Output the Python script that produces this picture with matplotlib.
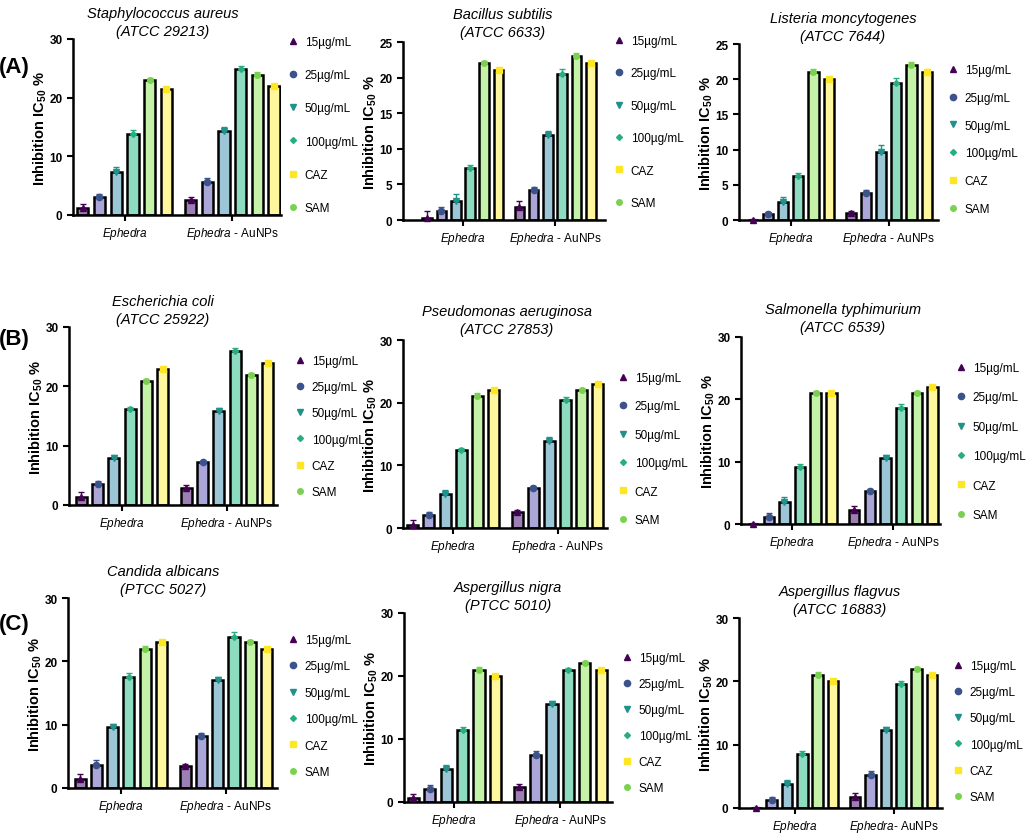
import numpy as np
import matplotlib.pyplot as plt
from matplotlib.lines import Line2D

plt.rcParams['font.family'] = 'Liberation Sans'
plt.rcParams['mathtext.fontset'] = 'custom'
plt.rcParams['mathtext.it'] = 'Liberation Sans:italic'
plt.rcParams['mathtext.bf'] = 'Liberation Sans:bold'
plt.rcParams['mathtext.rm'] = 'Liberation Sans'

#================================================================
# data: rows = [Ephedra, Ephedra - AuNPs], columns = bar order
series = ['15µg/mL', '25µg/mL', '50µg/mL', '100µg/mL', 'SAM', 'CAZ']
legend_order = [0, 1, 2, 3, 5, 4]

s_aureus = [[1.2, 3.0, 7.4, 13.8, 23.0, 21.5], [2.6, 5.7, 14.3, 24.9, 23.9, 22.0]]
s_aureus_err = [[0.6, 0.5, 0.8, 0.7, 0.4, 0.4], [0.5, 0.6, 0.7, 0.5, 0.5, 0.4]]
b_subtilis = [[0.3, 1.3, 2.7, 7.3, 22.0, 21.0], [1.8, 4.2, 12.0, 20.5, 23.0, 22.0]]
b_subtilis_err = [[1.0, 0.5, 0.9, 0.4, 0.4, 0.4], [0.8, 0.4, 0.5, 0.7, 0.4, 0.4]]
l_mono = [[0.0, 0.8, 2.5, 6.2, 21.0, 20.0], [1.0, 3.8, 9.7, 19.5, 22.0, 21.0]]
l_mono_err = [[0.2, 0.3, 0.8, 0.5, 0.5, 0.3], [0.3, 0.4, 0.9, 0.6, 0.5, 0.4]]
e_coli = [[1.3, 3.6, 7.9, 16.2, 20.9, 23.0], [2.9, 7.2, 15.9, 25.9, 21.9, 23.9]]
e_coli_err = [[0.9, 0.4, 0.5, 0.4, 0.4, 0.3], [0.5, 0.3, 0.4, 0.6, 0.4, 0.3]]
p_aerug = [[0.5, 2.0, 5.4, 12.4, 21.0, 22.0], [2.6, 6.4, 13.9, 20.5, 22.0, 23.0]]
p_aerug_err = [[0.7, 0.5, 0.7, 0.3, 0.5, 0.3], [0.3, 0.3, 0.6, 0.4, 0.4, 0.3]]
s_typh = [[0.0, 1.2, 3.6, 9.1, 21.0, 21.0], [2.2, 5.3, 10.6, 18.6, 21.0, 22.0]]
s_typh_err = [[0.2, 0.5, 0.7, 0.5, 0.4, 0.3], [0.7, 0.3, 0.5, 0.7, 0.4, 0.3]]
c_albicans = [[1.5, 3.6, 9.6, 17.5, 22.0, 23.0], [3.5, 8.2, 17.1, 23.9, 23.0, 22.0]]
c_albicans_err = [[0.7, 0.8, 0.5, 0.6, 0.4, 0.3], [0.3, 0.5, 0.4, 0.7, 0.4, 0.3]]
a_nigra = [[0.6, 2.0, 5.3, 11.4, 21.0, 20.0], [2.4, 7.4, 15.6, 21.0, 22.0, 21.0]]
a_nigra_err = [[0.6, 0.7, 0.6, 0.5, 0.4, 0.3], [0.5, 0.7, 0.4, 0.3, 0.4, 0.3]]
a_flavus = [[0.0, 1.2, 3.8, 8.5, 21.0, 20.0], [1.7, 5.2, 12.3, 19.6, 22.0, 21.0]]
a_flavus_err = [[0.2, 0.6, 0.6, 0.5, 0.4, 0.3], [0.6, 0.7, 0.5, 0.5, 0.3, 0.3]]

bar_colors = ['#9c80b4', '#aaa7d8', '#9cc6d6', '#8edcc0', '#c4f2a8', '#fff79e']
mk_colors = ['#440154', '#3b528b', '#21918c', '#27ad81', '#7ad151', '#fde725']
markers = ['^', 'o', 'v', 'D', 'o', 's']
mk_sizes = [4, 4.5, 4.5, 3, 4, 5]

W, H = 1028, 837
d = 0.155
w = 0.105
#================================================================
def DrawPanel(fig, vals, errs, box, ymax, xlim, title, title_xy, leg, xlab2):
    x0, x1, ytop, y0 = box
    ax = fig.add_axes([x0 / W, 1 - y0 / H, (x1 - x0) / W, (y0 - ytop) / H])
    centers = np.array([0.0, 1.0])
    vals = np.array(vals)
    errs = np.array(errs)
    for k in range(6):
        x = centers + (k - 2.5) * d
        ax.bar(x, vals[:, k], width=w, color=bar_colors[k], edgecolor='black',
               linewidth=1.8, zorder=2)
        ax.errorbar(x, vals[:, k], yerr=[np.zeros(2), errs[:, k]], fmt=markers[k],
                    color=mk_colors[k], ms=mk_sizes[k], elinewidth=1, capsize=2.5,
                    capthick=1, zorder=3, clip_on=False)
    ax.set_xlim(xlim)
    ax.set_ylim(0, ymax)
    step = 5 if ymax == 25 else 10
    ax.set_yticks(np.arange(0, ymax + 1, step))
    ax.set_xticks(centers)
    ax.set_xticklabels([r'$\mathit{Ephedra}$', r'$\mathit{Ephedra}$' + xlab2], fontsize=9)
    for s in ['top', 'right']:
        ax.spines[s].set_visible(False)
    for s in ['left', 'bottom']:
        ax.spines[s].set_linewidth(1.8)
    ax.tick_params(direction='out', length=4, width=1.5, labelsize=8.5)
    for t in ax.get_yticklabels():
        t.set_fontweight('bold')
    ax.set_ylabel(r'Inhibition IC$_{\mathbf{50}}$ %', fontweight='bold', fontsize=10.5, labelpad=0)

    fig.text(title_xy[0] / W, 1 - title_xy[1] / H, title, style='italic', fontsize=10.5,
             ha='center', va='center', linespacing=1.45)

    lx, ltop, lbot = leg
    fs = 8.5
    fs_px = fs * 100 / 72
    pitch = (lbot - ltop) / 5
    ls = (pitch - 1.15 * fs_px) / fs_px
    handles = [Line2D([], [], marker=markers[k], color=mk_colors[k], ls='none', ms=mk_sizes[k])
               for k in legend_order]
    labels = [series[k] for k in legend_order]
    ax.legend(handles, labels, loc='upper left', frameon=False, fontsize=fs,
              bbox_to_anchor=((lx - 0.4 * fs_px) / W, 1 - (ltop - 0.6 * fs_px) / H),
              bbox_transform=fig.transFigure, labelspacing=ls, handlelength=0.8,
              handletextpad=0.6, borderpad=0, borderaxespad=0)
    return ax
#================================================================
def main():
    fig = plt.figure(figsize=(W / 100, H / 100), dpi=100)

    DrawPanel(fig, s_aureus, s_aureus_err, (73, 281, 40, 216), 30, (-0.478, 1.451),
              'Staphylococcus aureus\n(ATCC 29213)', (163, 23), (293, 44, 218), ' - AuNPs')
    DrawPanel(fig, b_subtilis, b_subtilis_err, (403, 605, 43, 221), 25, (-0.650, 1.542),
              'Bacillus subtilis\n(ATCC 6633)', (503, 24), (619, 43, 213), ' - AuNPs')
    DrawPanel(fig, l_mono, l_mono_err, (739, 938, 45, 221), 25, (-0.527, 1.503),
              'Listeria moncytogenes\n(ATCC 7644)', (843, 28), (953, 72, 219), ' - AuNPs')

    DrawPanel(fig, e_coli, e_coli_err, (69, 277, 328, 506), 30, (-0.505, 1.476),
              'Escherichia coli\n(ATCC 25922)', (163, 311), (300, 363, 502), ' - AuNPs')
    DrawPanel(fig, p_aerug, p_aerug_err, (403, 607, 341, 529), 30, (-0.481, 1.474),
              'Pseudomonas aeruginosa\n(ATCC 27853)', (507, 321), (623, 380, 530), ' - AuNPs')
    DrawPanel(fig, s_typh, s_typh_err, (741, 940, 338, 525), 30, (-0.508, 1.462),
              'Salmonella typhimurium\n(ATCC 6539)', (843, 319), (961, 370, 525), ' - AuNPs')

    DrawPanel(fig, c_albicans, c_albicans_err, (68, 277, 599, 789), 30, (-0.503, 1.487),
              'Candida albicans\n(PTCC 5027)', (163, 581), (293, 642, 782), ' - AuNPs')
    DrawPanel(fig, a_nigra, a_nigra_err, (404, 612, 614, 803), 30, (-0.476, 1.489),
              'Aspergillus nigra\n(PTCC 5010)', (508, 597), (627, 660, 798), ' - AuNPs')
    DrawPanel(fig, a_flavus, a_flavus_err, (739, 942, 619, 809), 30, (-0.563, 1.490),
              'Aspergillus flagvus\n(ATCC 16883)', (840, 601), (958, 668, 807), '- AuNPs')

    for lab, y in [('(A)', 68), ('(B)', 340), ('(C)', 625)]:
        fig.text(14 / W, 1 - y / H, lab, fontsize=16, fontweight='bold', ha='center', va='center')

    fig.savefig('out.png', dpi=100)
#================================================================
if __name__ == '__main__':
    main()
